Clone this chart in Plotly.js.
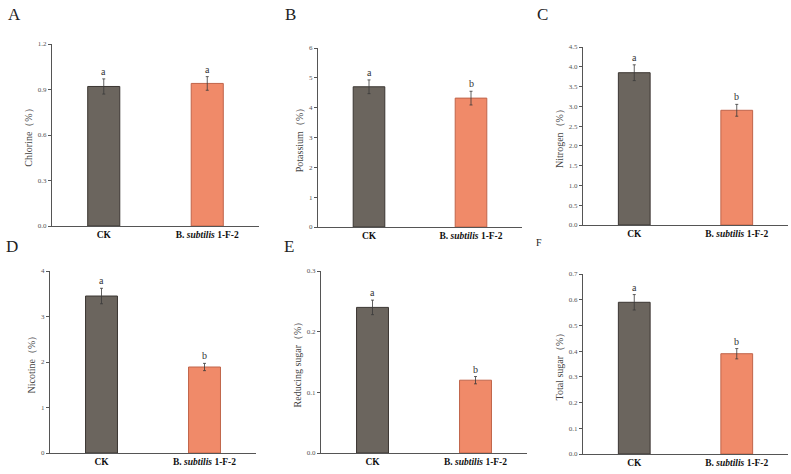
<!DOCTYPE html>
<html>
<head>
<meta charset="utf-8">
<script src="https://cdn.plot.ly/plotly-3.0.1.min.js"></script>
<style>html,body{margin:0;padding:0;background:#fff;}#chart{width:791px;height:474px;}</style>
</head>
<body>
<div id="chart"></div>
<script>
// Data
const categories = ["CK", "B. subtilis 1-F-2"];
const categoryLabels = ["<b>CK</b>", "<b>B. <i>subtilis</i> 1-F-2</b>"];
const panelLetters = ["A", "B", "C", "D", "E", "F"];
const yTitles = ["Chlorine（%）", "Potassium（%）", "Nitrogen（%）", "Nicotine（%）", "Reducing sugar（%）", "Total sugar（%）"];
const chlorine = [0.92, 0.94];
const chlorineErr = [0.05, 0.045];
const potassium = [4.70, 4.32];
const potassiumErr = [0.23, 0.23];
const nitrogen = [3.85, 2.90];
const nitrogenErr = [0.20, 0.15];
const nicotine = [3.45, 1.89];
const nicotineErr = [0.17, 0.08];
const reducingSugar = [0.240, 0.120];
const reducingSugarErr = [0.012, 0.006];
const totalSugar = [0.59, 0.39];
const totalSugarErr = [0.03, 0.02];
const sigLetters = [["a","a"],["a","b"],["a","b"],["a","b"],["a","b"],["a","b"]];
const yMax = [1.2, 6, 4.5, 4, 0.3, 0.7];
const yDtick = [0.3, 1, 0.5, 1, 0.1, 0.1];
const yFormat = [".1f", "d", ".1f", "d", ".1f", ".1f"];

const values = [chlorine, potassium, nitrogen, nicotine, reducingSugar, totalSugar];
const errors = [chlorineErr, potassiumErr, nitrogenErr, nicotineErr, reducingSugarErr, totalSugarErr];

// Layout geometry (pixels)
const W = 791, H = 474;
const boxes = [
  [52, 259, 44, 226],
  [318, 522, 48, 227],
  [583, 788, 47, 225],
  [50, 256, 271, 453],
  [321, 527, 271, 453],
  [583, 788, 274, 454]
];
const letterPos = [[14, 15, 17], [290, 15, 17], [542, 15, 17], [12, 246, 17], [289, 246, 17], [539, 243, 10]];

const fillColors = ["#6b655e", "#f08a69"];
const lineColors = ["#3b3632", "#c0644a"];
const serif = "Liberation Serif, Times New Roman, serif";

const data = [];
const layout = {
  width: W, height: H,
  margin: {l: 0, r: 0, t: 0, b: 0},
  paper_bgcolor: "#fff", plot_bgcolor: "#fff",
  showlegend: false,
  font: {family: serif, color: "#333"},
  annotations: []
};

for (let i = 0; i < 6; i++) {
  const n = i === 0 ? "" : String(i + 1);
  const b = boxes[i];
  data.push({
    type: "bar",
    x: categories,
    y: values[i],
    width: 0.31,
    xaxis: "x" + n, yaxis: "y" + n,
    marker: {color: fillColors, line: {color: lineColors, width: 1}},
    error_y: {type: "data", array: errors[i], visible: true, color: "#3a3a3a", thickness: 0.8, width: 1.5}
  });
  layout["xaxis" + n] = {
    domain: [b[0] / W, b[1] / W],
    anchor: "y" + n,
    range: [-0.5, 1.5],
    type: "category",
    tickmode: "array", tickvals: categories, ticktext: categoryLabels,
    tickfont: {family: serif, size: 9.5, color: "#111"},
    showline: true, linecolor: "#555", linewidth: 1,
    ticks: "", showgrid: false, zeroline: false, fixedrange: true
  };
  layout["yaxis" + n] = {
    domain: [1 - b[3] / H, 1 - b[2] / H],
    anchor: "x" + n,
    range: [0, yMax[i]],
    dtick: yDtick[i], tick0: 0,
    tickformat: yFormat[i],
    tickfont: {family: serif, size: 7, color: "#555"},
    ticks: "outside", ticklen: 3, tickcolor: "#555",
    showline: true, linecolor: "#555", linewidth: 1,
    showgrid: false, zeroline: false,
    title: {text: yTitles[i], font: {family: serif, size: 10, color: "#444"}, standoff: 3}
  };
  for (let j = 0; j < 2; j++) {
    layout.annotations.push({
      xref: "x" + n, yref: "y" + n,
      x: categories[j], y: values[i][j] + errors[i][j],
      text: sigLetters[i][j], showarrow: false,
      yanchor: "bottom", yshift: 0,
      font: {family: serif, size: 10, color: "#333"}
    });
  }
  layout.annotations.push({
    xref: "paper", yref: "paper",
    x: letterPos[i][0] / W, y: 1 - letterPos[i][1] / H,
    text: panelLetters[i], showarrow: false,
    xanchor: "center", yanchor: "middle",
    font: {family: serif, size: letterPos[i][2], color: "#222"}
  });
}

Plotly.newPlot("chart", data, layout, {displayModeBar: false, staticPlot: true});
</script>
</body>
</html>
